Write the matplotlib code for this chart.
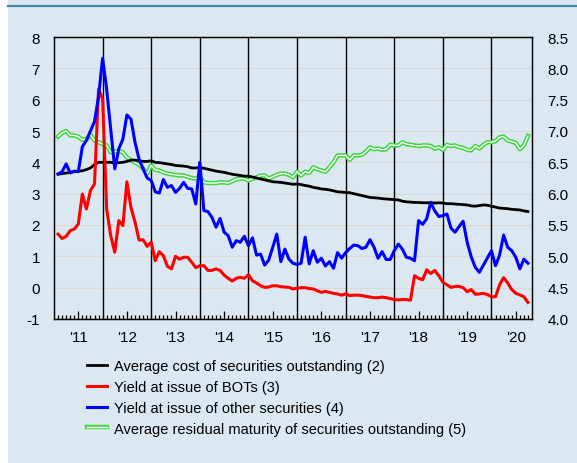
import numpy as np
import matplotlib
matplotlib.use('Agg')
import matplotlib.pyplot as plt
import matplotlib.patheffects as pe
from matplotlib.lines import Line2D
from matplotlib.patches import Rectangle

plt.rcParams['font.family'] = ['Liberation Sans', 'DejaVu Sans']
plt.rcParams['axes.unicode_minus'] = False

# monthly data, Jan 2011 - Sep 2020
avg_cost = [3.62, 3.64, 3.66, 3.68, 3.7, 3.72, 3.73, 3.77, 3.82, 3.93,
            4.0, 4.0, 4.0, 4.0, 3.98, 3.99, 4.0, 4.03, 4.07, 4.07,
            4.05, 4.03, 4.03, 4.05, 4.0, 3.99, 3.97, 3.95, 3.93, 3.9,
            3.89, 3.88, 3.86, 3.82, 3.82, 3.84, 3.81, 3.78, 3.75, 3.72,
            3.7, 3.68, 3.65, 3.62, 3.6, 3.58, 3.56, 3.56, 3.53, 3.5,
            3.47, 3.44, 3.41, 3.38, 3.37, 3.36, 3.34, 3.32, 3.3, 3.31,
            3.29, 3.26, 3.24, 3.2, 3.18, 3.15, 3.14, 3.12, 3.09, 3.06,
            3.05, 3.04, 3.03, 3.0, 2.97, 2.94, 2.91, 2.88, 2.87, 2.86,
            2.84, 2.83, 2.82, 2.81, 2.8, 2.76, 2.74, 2.73, 2.72, 2.72,
            2.71, 2.71, 2.71, 2.7, 2.71, 2.7, 2.68, 2.68, 2.67, 2.66,
            2.65, 2.64, 2.61, 2.6, 2.62, 2.64, 2.63, 2.6, 2.57, 2.54,
            2.53, 2.52, 2.5, 2.49, 2.48, 2.45, 2.43]
bots = [1.71, 1.57, 1.64, 1.82, 1.87, 2.03, 2.99, 2.51, 3.1, 3.31,
        6.34, 6.02, 2.51, 1.66, 1.13, 2.14, 1.98, 3.38, 2.56, 2.09,
        1.52, 1.53, 1.32, 1.45, 0.86, 1.15, 1.02, 0.68, 0.6, 1.0,
        0.91, 0.97, 0.97, 0.81, 0.64, 0.7, 0.7, 0.55, 0.55, 0.6,
        0.55, 0.4, 0.3, 0.21, 0.3, 0.33, 0.3, 0.41, 0.22, 0.15,
        0.06, 0.01, 0.02, 0.06, 0.06, 0.03, 0.02, 0.01, -0.04, -0.02,
        0.0, 0.0, -0.03, -0.04, -0.1, -0.15, -0.12, -0.15, -0.18, -0.2,
        -0.24, -0.2, -0.25, -0.24, -0.24, -0.25, -0.28, -0.3, -0.32, -0.32,
        -0.3, -0.32, -0.35, -0.38, -0.39, -0.38, -0.38, -0.4, 0.38, 0.3,
        0.25, 0.57, 0.45, 0.55, 0.38, 0.17, 0.09, 0.01, 0.04, 0.04,
        0.0, -0.13, -0.06, -0.21, -0.2, -0.18, -0.22, -0.29, -0.29, 0.09,
        0.32, 0.15, -0.06, -0.18, -0.23, -0.29, -0.47]
other = [3.63, 3.7, 3.95, 3.66, 3.72, 3.7, 4.5, 4.7, 5.0, 5.3,
         6.1, 7.32, 6.34, 5.06, 3.79, 4.43, 4.74, 5.51, 5.38, 4.64,
         4.1, 3.79, 3.5, 3.42, 3.06, 3.02, 3.45, 3.2, 3.26, 3.04,
         3.17, 3.36, 3.17, 3.15, 2.67, 4.0, 2.46, 2.43, 2.24, 1.93,
         2.21, 1.77, 1.66, 1.29, 1.5, 1.45, 1.64, 1.34, 1.59, 1.04,
         1.07, 0.72, 0.88, 1.29, 1.71, 0.83, 1.23, 0.91, 0.78, 0.74,
         0.78, 1.61, 0.76, 1.18, 0.81, 0.94, 0.69, 0.83, 0.62, 1.12,
         0.94, 1.12, 1.25, 1.36, 1.34, 1.25, 1.29, 1.53, 1.29, 0.94,
         1.15, 0.9, 0.9, 1.18, 1.39, 1.23, 0.97, 0.94, 0.86, 2.14,
         2.02, 2.2, 2.72, 2.45, 2.27, 2.3, 2.35, 1.9, 1.77, 1.95,
         2.12, 1.45, 0.98, 0.65, 0.49, 0.72, 0.95, 1.18, 0.7, 1.04,
         1.68, 1.29, 1.18, 0.97, 0.6, 0.91, 0.78]
maturity = [6.91, 6.97, 7.0, 6.93, 6.93, 6.91, 6.86, 6.87, 6.94, 6.85,
            6.82, 6.79, 6.77, 6.66, 6.67, 6.68, 6.66, 6.58, 6.53, 6.5,
            6.46, 6.4, 6.32, 6.45, 6.38, 6.37, 6.34, 6.32, 6.31, 6.3,
            6.29, 6.29, 6.27, 6.25, 6.24, 6.27, 6.18, 6.17, 6.17, 6.17,
            6.18, 6.18, 6.17, 6.2, 6.23, 6.24, 6.24, 6.21, 6.24, 6.26,
            6.29, 6.29, 6.24, 6.27, 6.3, 6.32, 6.32, 6.3, 6.26, 6.35,
            6.29, 6.35, 6.33, 6.42, 6.39, 6.37, 6.35, 6.42, 6.5, 6.61,
            6.61, 6.61, 6.54, 6.61, 6.61, 6.62, 6.67, 6.74, 6.71, 6.72,
            6.7, 6.71, 6.78, 6.77, 6.77, 6.82, 6.79, 6.78, 6.77, 6.76,
            6.77, 6.77, 6.76, 6.72, 6.74, 6.7, 6.78, 6.76, 6.77, 6.74,
            6.73, 6.7, 6.69, 6.76, 6.72, 6.78, 6.82, 6.82, 6.84, 6.9,
            6.91, 6.85, 6.83, 6.81, 6.71, 6.77, 6.92]

years = ["'11", "'12", "'13", "'14", "'15", "'16", "'17", "'18", "'19", "'20"]
labels = ['Average cost of securities outstanding (2)',
          'Yield at issue of BOTs (3)',
          'Yield at issue of other securities (4)',
          'Average residual maturity of securities outstanding (5)']

bg = '#dce8f1'
green = '#3ed63e'
x = np.arange(1, len(avg_cost) + 1)

fig = plt.figure(figsize=(5.77, 4.64), dpi=100, facecolor=bg)
fig.patches.append(Rectangle((0, 0), 8 / 577, 1, transform=fig.transFigure,
                             facecolor='white', edgecolor='none', zorder=0))
fig.lines.append(Line2D([8 / 577, 1], [1 - 6.5 / 464, 1 - 6.5 / 464],
                        transform=fig.transFigure, color='#4a87a3', lw=1.6))

ax = fig.add_axes([54 / 577, 144 / 464, 478 / 577, 282 / 464])
ax2 = ax.twinx()
ax.set_zorder(2)
ax.patch.set_visible(False)
ax2.set_facecolor('white')

# grid and year separators on the back axis
ax2.set_ylim(4.0, 8.5)
ax2.set_yticks(np.arange(4.0, 8.51, 0.5))
ax2.set_yticklabels(['%.1f' % v for v in np.arange(4.0, 8.51, 0.5)])
ax2.grid(axis='y', color='#d9d9d9', lw=0.9)
ax2.set_axisbelow(True)
for m in range(12, 118, 12):
    ax2.axvline(m, color='black', lw=1.0, zorder=1.5)
green_fx = [pe.Stroke(linewidth=3.2, foreground=green), pe.Normal()]
ax2.plot(x, maturity, color='white', lw=1.0, zorder=2, path_effects=green_fx)

ax.plot(x, avg_cost, color='black', lw=2.0)
ax.plot(x, bots, color='#ff0000', lw=2.2)
ax.plot(x, other, color='#0000ff', lw=2.2)

ax.set_xlim(0, 118)
ax.set_ylim(-1, 8)
ax.set_yticks(range(-1, 9))
ax.set_xticks([6 + 12 * k for k in range(10)])
ax.set_xticklabels(years)
ax.set_xticks([m for m in range(1, 118) if m % 12 != 6], minor=True)
ax.tick_params(axis='x', which='major', direction='in', length=6, width=0.9,
               pad=8, labelsize=11)
ax.tick_params(axis='x', which='minor', direction='in', length=3, width=0.9)
ax.tick_params(axis='y', length=0, pad=10, labelsize=11)
ax2.tick_params(axis='y', length=0, pad=11, labelsize=11)
for s in ax.spines.values():
    s.set_color('black')
    s.set_linewidth(1.0)

h1 = Line2D([], [], color='black', lw=2.0)
h2 = Line2D([], [], color='#ff0000', lw=2.2)
h3 = Line2D([], [], color='#0000ff', lw=2.2)
h4 = Line2D([], [], color='white', lw=1.0, path_effects=green_fx)
fig.legend([h1, h2, h3, h4], labels, loc='upper left',
           bbox_to_anchor=(87 / 577, 1 - 360 / 464), frameon=False,
           fontsize=10.5, handlelength=1.4, handletextpad=0.45,
           labelspacing=0.47, borderpad=0, borderaxespad=0)

fig.savefig('out.png', dpi=100, facecolor=bg)
